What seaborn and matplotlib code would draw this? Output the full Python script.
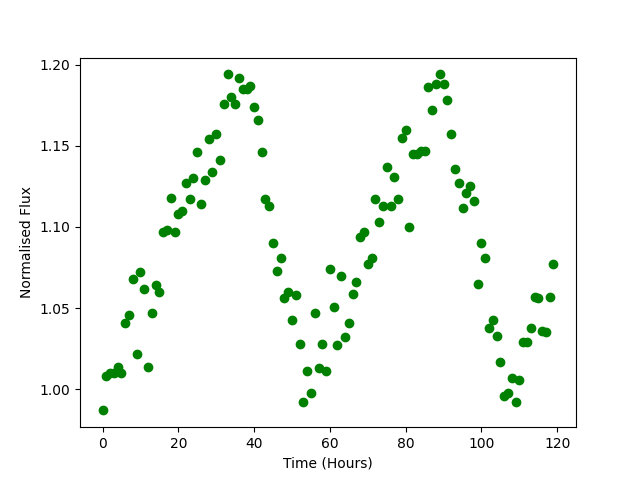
import numpy as np
import pandas as pd
import matplotlib
matplotlib.use("Agg")
import matplotlib.pyplot as plt
import seaborn as sns

# Time in hours, one reading per hour
hours = list(range(120))

# Normalised flux
flux = [
    0.987, 1.008, 1.010, 1.010, 1.014, 1.010, 1.041, 1.046, 1.068, 1.022,
    1.072, 1.062, 1.014, 1.047, 1.064, 1.060, 1.097, 1.098, 1.118, 1.097,
    1.108, 1.110, 1.127, 1.117, 1.130, 1.146, 1.114, 1.129, 1.154, 1.134,
    1.157, 1.141, 1.176, 1.194, 1.180, 1.176, 1.192, 1.185, 1.185, 1.187,
    1.174, 1.166, 1.146, 1.117, 1.113, 1.090, 1.073, 1.081, 1.056, 1.060,
    1.043, 1.058, 1.028, 0.992, 1.011, 0.998, 1.047, 1.013, 1.028, 1.011,
    1.074, 1.051, 1.027, 1.070, 1.032, 1.041, 1.059, 1.066, 1.094, 1.097,
    1.077, 1.081, 1.117, 1.103, 1.113, 1.137, 1.113, 1.131, 1.117, 1.155,
    1.160, 1.100, 1.145, 1.145, 1.147, 1.147, 1.186, 1.172, 1.188, 1.194,
    1.188, 1.178, 1.157, 1.136, 1.127, 1.112, 1.121, 1.125, 1.116, 1.065,
    1.090, 1.081, 1.038, 1.043, 1.033, 1.017, 0.996, 0.998, 1.007, 0.992,
    1.006, 1.029, 1.029, 1.038, 1.057, 1.056, 1.036, 1.035, 1.057, 1.077,
]

df = pd.DataFrame({"Time": hours, "Flux": flux})

plt.figure(figsize=(6.4, 4.8), dpi=100)
sns.scatterplot(data=df, x="Time", y="Flux", color="green", s=36,
                edgecolor="green", linewidth=1)

plt.xlabel("Time (Hours)")
plt.ylabel("Normalised Flux")
plt.xticks([0, 20, 40, 60, 80, 100, 120])
plt.yticks([1.00, 1.05, 1.10, 1.15, 1.20])

plt.savefig("out.png", dpi=100)
